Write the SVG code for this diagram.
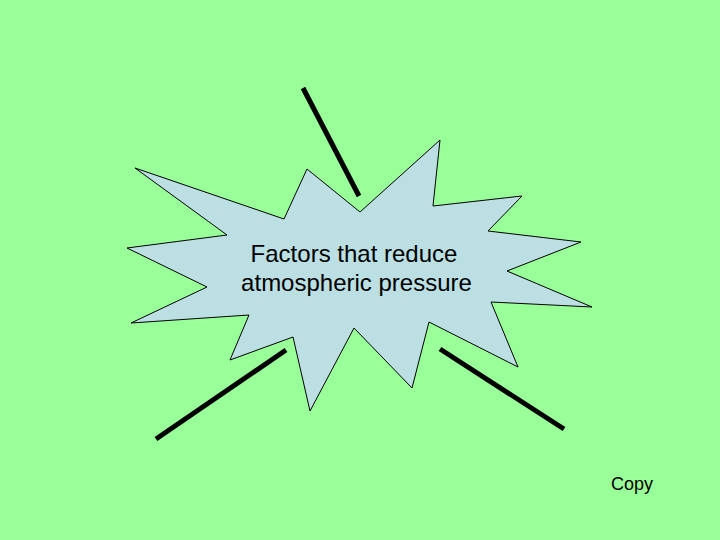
<svg xmlns="http://www.w3.org/2000/svg" width="720" height="540" viewBox="0 0 720 540">
<style>
.lbl{font-family:"Liberation Sans",Arial,sans-serif;fill:#000}
.ln{stroke:#000;stroke-width:5;fill:none}
</style>
<rect width="720" height="540" fill="#99FF99"/>
<g id="star">
<polygon points="135,168 284,219 307,169 360,212 440,140 433,206 522,196 488,231 581,242 507,271 592,307 491,302 518,367 429,322 412,388 354,328 310,411 293,337 230,360 249,315 131,323 207,287 127,248 227,235" fill="#BBDFE3" stroke="#000" stroke-width="1"/>
<text class="lbl" x="354" y="262" font-size="24" text-anchor="middle">Factors that reduce</text>
<text class="lbl" x="356.5" y="291" font-size="24" text-anchor="middle">atmospheric pressure</text>
</g>
<g id="connectors">
<line class="ln" x1="303" y1="88" x2="359" y2="196"/>
<line class="ln" x1="286" y1="350" x2="156" y2="439"/>
<line class="ln" x1="440" y1="349" x2="564" y2="429"/>
</g>
<g id="copy">
<text class="lbl" x="632" y="490" font-size="18" text-anchor="middle">Copy</text>
</g>
</svg>
